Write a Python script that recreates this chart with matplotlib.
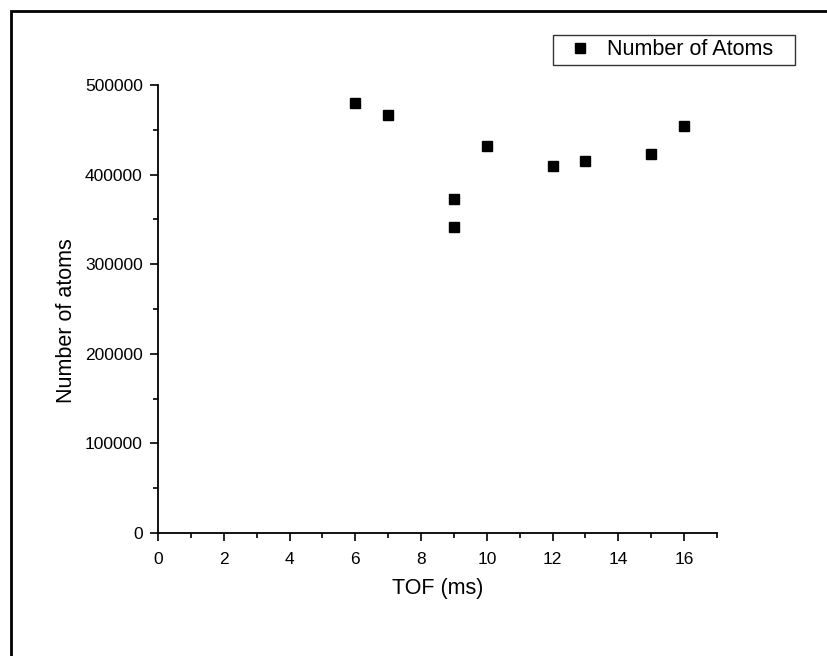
import matplotlib
matplotlib.use("Agg")
import matplotlib.pyplot as plt
from matplotlib.patches import Rectangle
from matplotlib.ticker import MultipleLocator

plt.rcParams['font.family'] = ['Liberation Sans', 'DejaVu Sans']

# data
tof = [6, 7, 9, 9, 10, 12, 13, 15, 16]
atoms = [480000, 467000, 373000, 341000, 432000, 410000, 415000, 423000, 454000]

fig = plt.figure(figsize=(8.28, 6.56), dpi=100)
ax = fig.add_axes([158 / 828, 1 - 533 / 656, (717 - 158) / 828, (533 - 85) / 656])

ax.plot(tof, atoms, 's', color='black', markersize=6.5, label='Number of Atoms   ')

ax.set_xlim(0, 17)
ax.set_ylim(0, 500000)
ax.xaxis.set_major_locator(MultipleLocator(2))
ax.xaxis.set_minor_locator(MultipleLocator(1))
ax.yaxis.set_major_locator(MultipleLocator(100000))
ax.yaxis.set_minor_locator(MultipleLocator(50000))
ax.tick_params(which='both', direction='out', width=1.2, labelsize=12.5)
ax.tick_params(which='major', length=6, pad=5)
ax.tick_params(axis='x', which='major', pad=8)
ax.tick_params(which='minor', length=3.5)
ax.spines['top'].set_visible(False)
ax.spines['right'].set_visible(False)
ax.spines['left'].set_linewidth(1.3)
ax.spines['bottom'].set_linewidth(1.3)

ax.set_xlabel('TOF (ms)', fontsize=15.5, labelpad=7.5)
ax.set_ylabel('Number of atoms', fontsize=15.5)
ax.yaxis.set_label_coords(-0.145, 0.473)

leg = ax.legend(loc='upper left', bbox_to_anchor=(553 / 828, 1 - 35 / 656),
                bbox_transform=fig.transFigure, fontsize=15.5, frameon=True,
                fancybox=False, borderpad=0.2, handletextpad=0.15,
                handlelength=2.15, borderaxespad=0)
leg.get_frame().set_edgecolor('black')
leg.get_frame().set_linewidth(1.0)

# outer frame, partly cut off at right and bottom
fig.patches.append(Rectangle((11.5 / 828, -0.2), 1.2, 1.2 - 10.5 / 656,
                             transform=fig.transFigure, fill=False,
                             edgecolor='black', linewidth=2.0))

fig.savefig('out.png', dpi=100)
